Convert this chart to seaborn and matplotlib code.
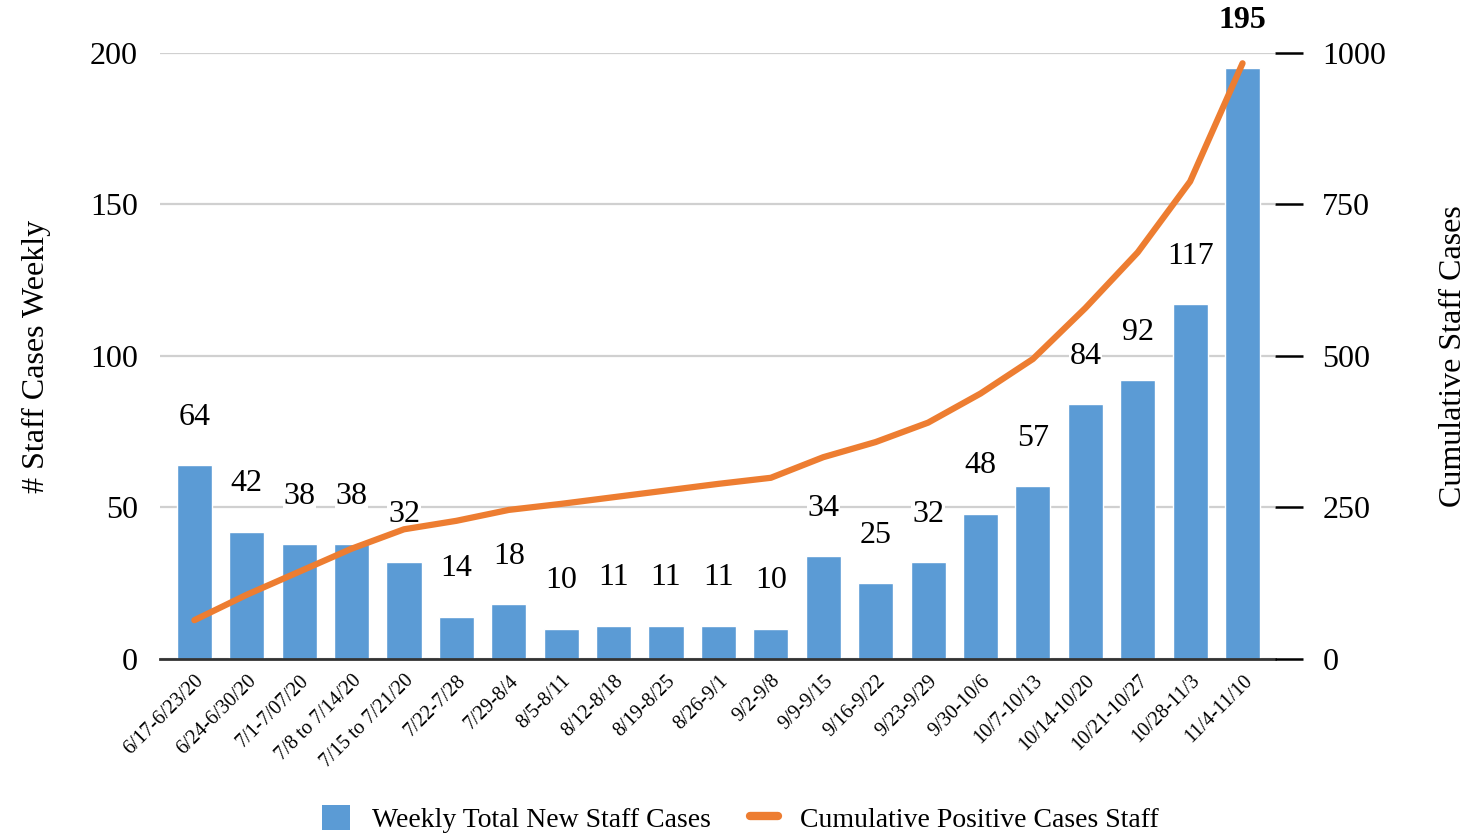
import numpy as np
import pandas as pd
import matplotlib
matplotlib.use("Agg")
import matplotlib.pyplot as plt
import seaborn as sns
from matplotlib.patches import Patch
from matplotlib.lines import Line2D

weeks = ["6/17-6/23/20", "6/24-6/30/20", "7/1-7/07/20", "7/8 to 7/14/20", "7/15 to 7/21/20",
         "7/22-7/28", "7/29-8/4", "8/5-8/11", "8/12-8/18", "8/19-8/25", "8/26-9/1", "9/2-9/8",
         "9/9-9/15", "9/16-9/22", "9/23-9/29", "9/30-10/6", "10/7-10/13", "10/14-10/20",
         "10/21-10/27", "10/28-11/3", "11/4-11/10"]
weekly_cases = [64, 42, 38, 38, 32, 14, 18, 10, 11, 11, 11, 10, 34, 25, 32, 48, 57, 84, 92, 117, 195]
cumulative_cases = [64, 106, 144, 182, 214, 228, 246, 256, 267, 278, 289, 299, 333, 358, 390,
                    438, 495, 579, 671, 788, 983]
left_ticks = [0, 50, 100, 150, 200]
right_ticks = [0, 250, 500, 750, 1000]

bar_color = "#5B9BD5"
line_color = "#ED7D31"

sns.set_theme(style="white")
plt.rcParams["font.family"] = ["Liberation Serif", "DejaVu Serif"]
plt.rcParams["text.color"] = "black"
plt.rcParams["axes.labelcolor"] = "black"
plt.rcParams["xtick.color"] = "black"
plt.rcParams["ytick.color"] = "black"

df = pd.DataFrame({"week": weeks, "weekly": weekly_cases, "cum": cumulative_cases,
                   "pos": np.arange(len(weeks))})

fig = plt.figure(figsize=(14.72, 8.33), dpi=100)
ax1 = fig.add_axes([0.1087, 0.2089, 0.7575, 0.7275])

sns.barplot(data=df, x="week", y="weekly", color=bar_color, width=0.67,
            saturation=1, ax=ax1, zorder=2)
ax1.set_ylim(0, 200)
ax1.set_xlim(-0.655, 20.62)
ax1.set_yticks(left_ticks)
ax1.set_yticklabels([str(t) for t in left_ticks], fontsize=23, color="black")
ax1.tick_params(axis="y", length=0, pad=16)
ax1.yaxis.grid(True, color="#D0D0D0", linewidth=1.6, zorder=0)
ax1.xaxis.grid(False)
ax1.set_axisbelow(True)
for s in ["left", "right", "top"]:
    ax1.spines[s].set_visible(False)
ax1.spines["bottom"].set_color("#333333")
ax1.spines["bottom"].set_linewidth(2)
ax1.spines["bottom"].set_zorder(5)
ax1.set_xlabel("")
ax1.set_ylabel("# Staff Cases Weekly", fontsize=23, labelpad=28, color="black")
ax1.tick_params(axis="x", length=0, pad=9)
plt.setp(ax1.get_xticklabels(), rotation=45, ha="right", rotation_mode="anchor",
         fontsize=14.5, color="black")

ax2 = ax1.twinx()
sns.lineplot(data=df, x="pos", y="cum", color=line_color, linewidth=4.5, ax=ax2,
             legend=False)
ax2.set_ylim(0, 1000)
ax2.set_xlim(-0.655, 20.62)
ax2.set_yticks(right_ticks)
ax2.set_yticklabels([str(t) for t in right_ticks], fontsize=23, color="black")
ax2.tick_params(axis="y", length=20, width=1.8, color="black", direction="out", pad=14)
ax2.grid(False)
for s in ["left", "right", "top", "bottom"]:
    ax2.spines[s].set_visible(False)
ax2.set_xlabel("")
ax2.set_ylabel("Cumulative Staff Cases", fontsize=23, labelpad=38, color="black")

for i, v in enumerate(weekly_cases):
    ax2.annotate(str(v), xy=(i, v), xycoords=ax1.transData, xytext=(0, 24),
                 textcoords="offset points", ha="center", va="bottom", fontsize=23,
                 color="black",
                 fontweight="bold" if i == len(weekly_cases) - 1 else "normal",
                 annotation_clip=False,
                 bbox=dict(facecolor="white", edgecolor="none", pad=0.5), zorder=1)

handles = [Patch(facecolor=bar_color, edgecolor="none", label="Weekly Total New Staff Cases"),
           Line2D([0], [0], color=line_color, linewidth=6, label="Cumulative Positive Cases Staff")]
fig.legend(handles=handles, loc="lower center", bbox_to_anchor=(0.503, -0.03), ncol=2,
           frameon=False, fontsize=20, handlelength=1.0, handleheight=1.0,
           handletextpad=0.8, columnspacing=1.4, labelcolor="black")

fig.savefig("out.png", dpi=100)
